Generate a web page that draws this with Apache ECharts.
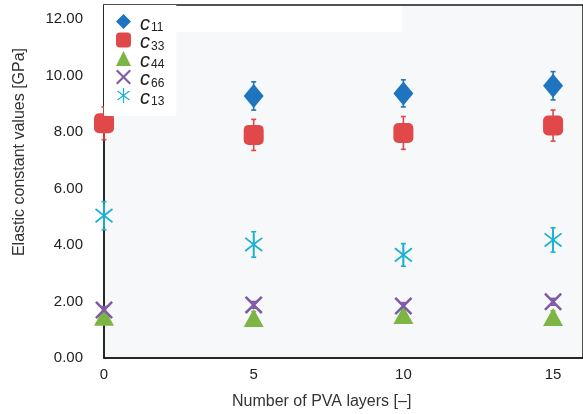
<!DOCTYPE html>
<html>
<head>
<meta charset="utf-8">
<script src="https://cdn.jsdelivr.net/npm/echarts@6/dist/echarts.min.js"></script>
<style>
  html, body { margin: 0; padding: 0; background: #fff; }
  #chart { width: 583px; height: 414px; }
</style>
</head>
<body>
<div id="chart"></div>
<script>
// number of PVA layers
const layers = [0, 5, 10, 15]

// elastic constants [GPa] and their error half-widths
const c11 = [null, 9.28, 9.37, 9.64]
const c11Err = [null, 0.5, 0.48, 0.5]
const c33 = [8.31, 7.9, 7.97, 8.23]
const c33Err = [0.58, 0.55, 0.58, 0.55]
const c44 = [1.46, 1.42, 1.52, 1.45]
const c44Err = [0.22, 0.22, 0.22, 0.22]
const c66 = [1.7, 1.88, 1.84, 1.99]
const c66Err = [0.12, 0.12, 0.12, 0.12]
const c13 = [5.04, 4.02, 3.65, 4.18]
const c13Err = [0.5, 0.45, 0.4, 0.43]

const xTicks = [0, 5, 10, 15]
const yTicks = [0, 2, 4, 6, 8, 10, 12]

const crossPath = 'path://M10,0 L50,40 L90,0 L100,10 L60,50 L100,90 L90,100 L50,60 L10,100 L0,90 L40,50 L0,10 Z'
const starPath = 'path://M46,0 L54,0 L54,100 L46,100 Z M12.4,16.8 L92.4,76.8 L87.6,83.2 L7.6,23.2 Z M87.6,16.8 L92.4,23.2 L12.4,83.2 L7.6,76.8 Z'

const sets = [
  { name: 'c11', values: c11, err: c11Err, color: '#1f74c0', symbol: 'diamond', size: [20, 24] },
  { name: 'c33', values: c33, err: c33Err, color: '#e0484a', symbol: 'roundRect', size: [20, 20] },
  { name: 'c44', values: c44, err: c44Err, color: '#7db544', symbol: 'triangle', size: [20, 18] },
  { name: 'c66', values: c66, err: c66Err, color: '#7f5aa8', symbol: crossPath, size: [18, 18] },
  { name: 'c13', values: c13, err: c13Err, color: '#19b1cf', symbol: starPath, size: [18, 22] }
]

const series = []
sets.forEach(s => {
  // error bars first, so the markers sit on top
  series.push({
    name: s.name + '-err',
    type: 'custom',
    z: 2,
    data: layers.map((x, i) => s.values[i] == null ? null : [x, s.values[i] - s.err[i], s.values[i] + s.err[i]]).filter(d => d),
    renderItem: (params, api) => {
      const lo = api.coord([api.value(0), api.value(1)])
      const hi = api.coord([api.value(0), api.value(2)])
      const style = { stroke: s.color, lineWidth: 1.6 }
      return {
        type: 'group',
        children: [
          { type: 'line', shape: { x1: lo[0], y1: lo[1], x2: hi[0], y2: hi[1] }, style },
          { type: 'line', shape: { x1: lo[0] - 2.5, y1: lo[1], x2: lo[0] + 2.5, y2: lo[1] }, style },
          { type: 'line', shape: { x1: hi[0] - 2.5, y1: hi[1], x2: hi[0] + 2.5, y2: hi[1] }, style }
        ]
      }
    }
  })
  series.push({
    name: s.name,
    type: 'scatter',
    z: 3,
    symbol: s.symbol,
    symbolSize: s.size,
    itemStyle: { color: s.color, opacity: 1 },
    data: layers.map((x, i) => s.values[i] == null ? null : [x, s.values[i]]).filter(d => d)
  })
})

const chart = echarts.init(document.getElementById('chart'))
chart.setOption({
  animation: false,
  backgroundColor: '#fff',
  textStyle: { fontFamily: 'Liberation Sans, Arial, sans-serif' },
  grid: {
    left: 104, top: 5, right: -2, bottom: 56,
    show: true,
    backgroundColor: '#f6f8f9',
    borderColor: '#1a1a1a',
    borderWidth: 1.5
  },
  legend: {
    orient: 'vertical',
    left: 104,
    top: 5,
    padding: [9, 12, 8, 12],
    backgroundColor: '#ffffff',
    itemWidth: 15,
    itemHeight: 15,
    itemGap: -1.5,
    data: sets.map(s => ({ name: s.name, icon: s.symbol })),
    formatter: name => '{c|c}{s|' + name.slice(1) + '}',
    textStyle: {
      color: '#222',
      rich: {
        c: { fontSize: 20, fontStyle: 'italic', lineHeight: 15, padding: [0, 0, 0, 4], verticalAlign: 'top', fontFamily: 'Liberation Sans' },
        s: { fontSize: 12, lineHeight: 9, padding: [8, 0, 0, 1], verticalAlign: 'top', fontFamily: 'Liberation Sans' }
      }
    }
  },
  xAxis: {
    type: 'value',
    min: 0,
    max: 16,
    interval: 5,
    splitLine: { show: false },
    axisTick: { show: false },
    axisLine: { lineStyle: { color: '#1a1a1a', width: 1.5 } },
    axisLabel: {
      color: '#222',
      fontSize: 15,
      margin: 9,
      showMaxLabel: false,
      formatter: v => xTicks.includes(v) ? String(v) : ''
    }
  },
  yAxis: {
    type: 'value',
    min: 0,
    max: 12.5,
    interval: 2,
    splitLine: { show: false },
    axisTick: { show: false },
    axisLine: { lineStyle: { color: '#1a1a1a', width: 1.5 } },
    axisLabel: {
      color: '#222',
      fontSize: 15,
      margin: 21,
      showMaxLabel: false,
      formatter: v => yTicks.includes(v) ? v.toFixed(2) : ''
    }
  },
  graphic: [
    {
      type: 'rect',
      left: 105,
      top: 6,
      z: 1,
      shape: { width: 297, height: 26 },
      style: { fill: '#ffffff' }
    },
    {
      type: 'text',
      left: 232,
      top: 394,
      style: { text: 'Number of PVA layers [–]', fontSize: 16, fill: '#333', fontFamily: 'Liberation Sans' }
    },
    {
      type: 'text',
      x: 20,
      y: 152,
      rotation: Math.PI / 2,
      style: {
        text: 'Elastic constant values [GPa]',
        fontSize: 16,
        fill: '#333',
        align: 'center',
        verticalAlign: 'middle',
        fontFamily: 'Liberation Sans'
      }
    }
  ],
  series
})
</script>
</body>
</html>
